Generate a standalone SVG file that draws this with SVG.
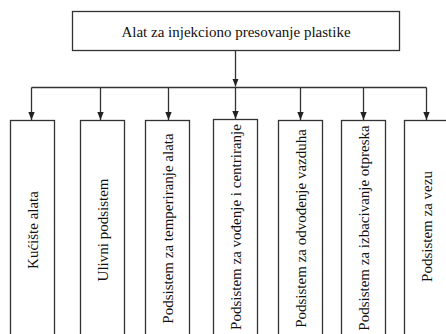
<svg xmlns="http://www.w3.org/2000/svg" width="446" height="334" viewBox="0 0 446 334">
<defs>
<marker id="ah" viewBox="0 0 8 8" refX="8" refY="4" markerWidth="8" markerHeight="8" markerUnits="userSpaceOnUse" orient="auto">
<path d="M0,0.8 L8,4 L0,7.2 Z" fill="#222"/>
</marker>
<style>
.box{fill:#fff;stroke:#333;stroke-width:1.3}
.lbl{font-family:"Liberation Serif","Times New Roman",serif;font-size:15px;fill:#111;text-anchor:middle}
.con{fill:none;stroke:#333;stroke-width:1.3}
</style>
</defs>
<rect width="446" height="334" fill="#fff"/>
<g id="root">
<rect class="box" x="72.5" y="11.5" width="327" height="39"/>
<text class="lbl" x="236" y="36.5">Alat za injekciono presovanje plastike</text>
</g>
<g id="connectors">
<path class="con" d="M235.5,50.5 V86.5" marker-end="url(#ah)"/>
<path class="con" d="M31.5,87.5 H426.5"/>
<path class="con" d="M31.5,87.5 V120" marker-end="url(#ah)"/>
<path class="con" d="M100.5,87.5 V120" marker-end="url(#ah)"/>
<path class="con" d="M168.5,87.5 V120" marker-end="url(#ah)"/>
<path class="con" d="M235.5,87.5 V119" marker-end="url(#ah)"/>
<path class="con" d="M300.5,87.5 V120" marker-end="url(#ah)"/>
<path class="con" d="M363.5,87.5 V120" marker-end="url(#ah)"/>
<path class="con" d="M426.5,87.5 V120" marker-end="url(#ah)"/>
</g>
<g id="n1">
<rect class="box" x="10.5" y="120.5" width="44" height="220"/>
<text class="lbl" transform="translate(32.5,230) rotate(-90)" dy="5">Kućište alata</text>
</g>
<g id="n2">
<rect class="box" x="80.5" y="120.5" width="44" height="220"/>
<text class="lbl" transform="translate(102.5,230) rotate(-90)" dy="5">Ulivni podsistem</text>
</g>
<g id="n3">
<rect class="box" x="145.5" y="120.5" width="44" height="220"/>
<text class="lbl" transform="translate(167.5,228.5) rotate(-90)" dy="5">Podsistem za temperiranje alata</text>
</g>
<g id="n4">
<rect class="box" x="213.5" y="119.5" width="44" height="221"/>
<text class="lbl" transform="translate(235.5,227) rotate(-90)" dy="5">Podsistem za vođenje i centriranje</text>
</g>
<g id="n5">
<rect class="box" x="278.5" y="120.5" width="44" height="220"/>
<text class="lbl" transform="translate(300.5,228.5) rotate(-90)" dy="5">Podsistem za odvođenje vazduha</text>
</g>
<g id="n6">
<rect class="box" x="341.5" y="120.5" width="44" height="220"/>
<text class="lbl" transform="translate(363.5,228) rotate(-90)" dy="5">Podsistem za izbacivanje otpreska</text>
</g>
<g id="n7">
<rect class="box" x="404.5" y="120.5" width="44" height="220"/>
<text class="lbl" transform="translate(426.5,226.5) rotate(-90)" dy="5">Podsistem za vezu</text>
</g>
</svg>
